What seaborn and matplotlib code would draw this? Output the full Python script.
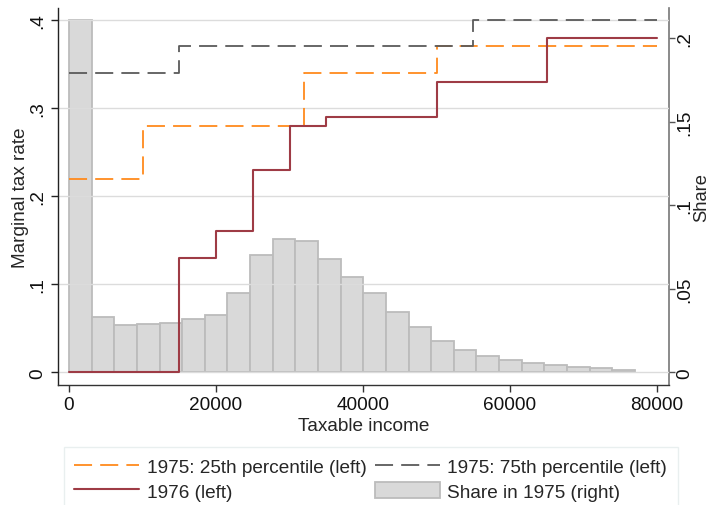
import numpy as np
import pandas as pd
import matplotlib
matplotlib.use("Agg")
import matplotlib.pyplot as plt
import seaborn as sns

sns.set_theme(style="white")
plt.rcParams["font.family"] = ["Liberation Sans", "DejaVu Sans"]

# Marginal tax schedules (step functions: rate applies from the given income upward)
p25_income = [0, 10000, 32000, 50000, 80000]
p25_rate = [0.22, 0.28, 0.34, 0.37, 0.37]

p75_income = [0, 15000, 55000, 80000]
p75_rate = [0.34, 0.37, 0.40, 0.40]

y1976_income = [0, 15000, 20000, 25000, 30000, 35000, 50000, 65000, 80000]
y1976_rate = [0.0, 0.13, 0.16, 0.23, 0.28, 0.29, 0.33, 0.38, 0.38]

# Income distribution in 1975: share of taxpayers per income bin
bin_width = 3080
share_1975 = [0.211, 0.0334, 0.0286, 0.0290, 0.0298, 0.0320, 0.0346, 0.0478,
              0.0700, 0.0800, 0.0787, 0.0680, 0.0574, 0.0478, 0.0364, 0.0270,
              0.0190, 0.0135, 0.0101, 0.0075, 0.0059, 0.0047, 0.0035, 0.0027,
              0.0017]

left_ticks = [0, 0.1, 0.2, 0.3, 0.4]
left_tick_labels = ["0", ".1", ".2", ".3", ".4"]
right_ticks = [0, 0.05, 0.1, 0.15, 0.2]
right_tick_labels = ["0", ".05", ".1", ".15", ".2"]
x_ticks = [0, 20000, 40000, 60000, 80000]

labels = {
    "p25": "1975: 25th percentile (left)",
    "p75": "1975: 75th percentile (left)",
    "y1976": "1976 (left)",
    "share": "Share in 1975 (right)",
}

c_orange = "#FF8A1C"
c_gray = "#5A5A5A"
c_red = "#9E3B45"
fs = 13.7

fig = plt.figure(figsize=(7.15, 5.06), dpi=100)
ax = fig.add_axes([0.0807, 0.2372, 0.855, 0.745])
ax2 = ax.twinx()
ax.set_zorder(2)
ax2.set_zorder(1)
ax.patch.set_visible(False)

# Histogram of shares on the right axis
n_bins = len(share_1975)
bin_mid = [bin_width * (i + 0.5) for i in range(n_bins)]
hist_df = pd.DataFrame({"income": bin_mid, "share": share_1975})
sns.histplot(data=hist_df, x="income", weights="share", binwidth=bin_width,
             binrange=(0, n_bins * bin_width), ax=ax2,
             color="#D9D9D9", edgecolor="#BCBCBC", linewidth=1.3, alpha=1.0,
             stat="count")

# Tax schedules on the left axis
df25 = pd.DataFrame({"income": p25_income, "rate": p25_rate})
df75 = pd.DataFrame({"income": p75_income, "rate": p75_rate})
df76 = pd.DataFrame({"income": y1976_income, "rate": y1976_rate})
sns.lineplot(data=df25, x="income", y="rate", ax=ax, color=c_orange,
             drawstyle="steps-post", linewidth=1.3, linestyle=(0, (10, 4.5)))
sns.lineplot(data=df75, x="income", y="rate", ax=ax, color=c_gray,
             drawstyle="steps-post", linewidth=1.3, linestyle=(0, (10, 4.5)))
sns.lineplot(data=df76, x="income", y="rate", ax=ax, color=c_red,
             drawstyle="steps-post", linewidth=1.5)

ax.set_xlim(-1537, 81633)
ax.set_ylim(-0.0144, 0.4136)
ax2.set_ylim(-0.0075, 0.2181)

ax.set_yticks(left_ticks)
ax.set_yticklabels(left_tick_labels, rotation=90, va="center", fontsize=fs)
ax2.set_yticks(right_ticks)
ax2.set_yticklabels(right_tick_labels, rotation=90, va="center", fontsize=fs)
ax.set_xticks(x_ticks)
ax.set_xticklabels([str(v) for v in x_ticks], fontsize=fs)

ax.grid(axis="y", color="#DCDCDC", linewidth=1.0)
ax.grid(axis="x", visible=False)
ax2.grid(False)

ax.set_xlabel("Taxable income", fontsize=fs, labelpad=2.5)
ax.set_ylabel("Marginal tax rate", fontsize=fs)
ax2.set_ylabel("Share", fontsize=13.2)
ax.yaxis.set_label_coords(-0.047, 0.5)

for a in (ax, ax2):
    a.spines["top"].set_visible(False)
ax.spines["left"].set_color("#222222")
ax.spines["bottom"].set_color("#333333")
ax.spines["right"].set_visible(False)
ax2.spines["left"].set_visible(False)
ax2.spines["bottom"].set_visible(False)
ax2.spines["right"].set_color("#777777")
for s in ("left", "bottom"):
    ax.spines[s].set_linewidth(1.0)
ax2.spines["right"].set_linewidth(1.2)

ax.tick_params(axis="y", left=True, length=5, width=1, color="#222222", pad=3,
               labelcolor="#111111")
ax.tick_params(axis="x", bottom=True, length=5, width=1, color="#333333", pad=3,
               labelcolor="#111111")
ax2.tick_params(axis="y", right=True, length=4, width=1, color="#555555", pad=1,
                labelcolor="#111111")

# Legend below the plot
lines = ax.get_lines()
h25, h75, h76 = lines[0], lines[1], lines[2]
hbar = ax2.patches[0]
handles = [h25, h76, h75, hbar]
leg_labels = [labels["p25"], labels["y1976"], labels["p75"], labels["share"]]
leg = fig.legend(handles, leg_labels, loc="upper left",
                 bbox_to_anchor=(64 / 715, 1 - 448 / 506), ncol=2,
                 fontsize=fs, frameon=True, fancybox=False,
                 handlelength=3.4, handleheight=0.95, handletextpad=0.4,
                 columnspacing=0.45, labelspacing=0.3, borderpad=0.55,
                 borderaxespad=0)
leg.get_frame().set_edgecolor("#E4ECEC")
leg.get_frame().set_linewidth(1.0)

# Put the right axis title just outside its tick labels
fig.canvas.draw()
renderer = fig.canvas.get_renderer()
tick_right = max(t.get_window_extent(renderer).x1
                 for t in ax2.get_yticklabels() if t.get_text())
ax_box = ax2.get_window_extent(renderer)
ax2.yaxis.set_label_coords((tick_right + 0.5 - ax_box.x0) / ax_box.width, 0.5)

fig.savefig("out.png", dpi=100)
